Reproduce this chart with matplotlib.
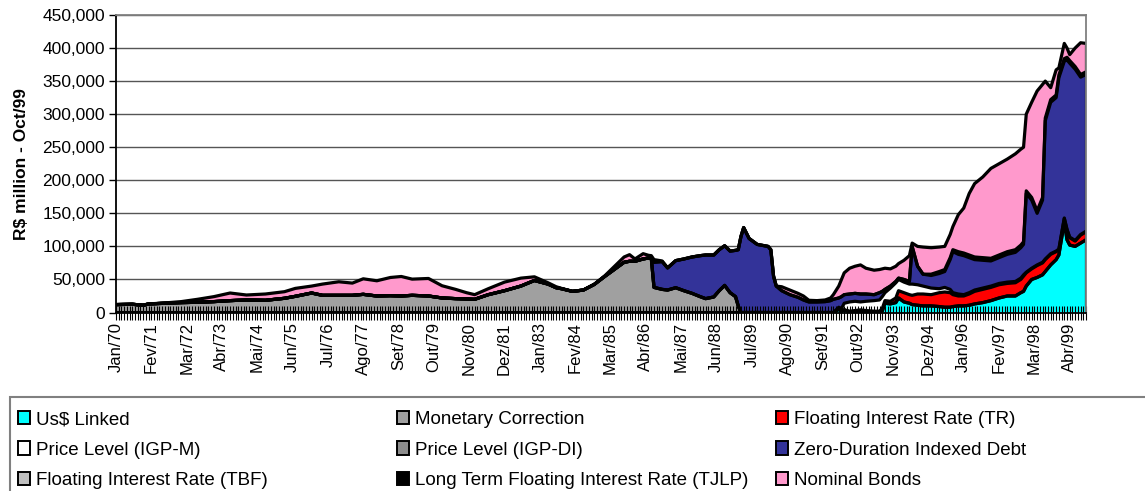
import numpy as np
import matplotlib.pyplot as plt
from matplotlib.patches import Patch, Rectangle
from matplotlib.ticker import FuncFormatter

plt.rcParams['font.family'] = ['Liberation Sans', 'DejaVu Sans']

# month index (0 = Jan/70), values in R$ thousand million
months = [0, 6, 10, 12, 18, 24, 30, 36, 42, 48,
          55, 62, 66, 72, 76, 82, 87, 91, 96, 101,
          105, 109, 115, 120, 125, 129, 132, 137, 143, 149,
          154, 159, 162, 164, 168, 172, 176, 180, 184, 187,
          189, 191, 194, 196, 197,
          198, 201, 203, 206, 209, 212, 215, 217, 220, 222,
          224, 226, 228, 229, 230, 231, 233, 236, 240, 241, 242, 243,
          245, 248, 251, 253, 255, 258, 261, 263, 264,
          266, 267, 268, 270, 272, 274, 276, 279, 281, 282,
          283, 285, 287, 288, 290, 292, 293, 295, 297,
          300, 303, 305, 307, 308, 310, 312, 314, 316, 319,
          322, 325, 328, 331, 333, 334, 335, 337, 339, 341,
          342, 344, 346, 347, 349, 350, 351, 353, 355, 357]

usd_linked = [0] * 45 + [0] * 22 + [0] * 9 + \
    [5, 2, 4, 1, 0.5, 0.5, 0.5, 0.5, 0.5, 2,
     14, 13, 15, 22, 16, 14, 12, 11, 10] + \
    [10, 9, 8, 8, 9, 10, 10, 11, 13, 15,
     18, 22, 25, 25, 30, 32, 40, 50, 53, 57,
     62, 72, 80, 87, 137, 110, 102, 100, 105, 110]

monetary = [12, 12.5, 11, 13, 14, 15, 15.5, 16.5, 18, 19,
            18.5, 21.5, 24.5, 29.5, 26, 26, 26, 27.5, 25, 25.5,
            25, 26, 25, 22, 21, 20.5, 20, 27, 33, 40,
            48.5, 43, 37.5, 36, 32, 34, 42.5, 55, 67, 76,
            77.5, 77.5, 81, 82.5, 82,
            38, 35, 34, 37.5, 33, 29, 24, 21, 23.5, 33,
            41, 30, 24, 10, 0, 0, 0, 0, 0, 0, 0, 0] + [0] * 58

tr_rate = [0] * 76 + \
    [0, 0, 0, 1, 2.5, 3.5, 2.5, 1.5, 1.5, 4,
     4, 4, 7, 11, 14, 13, 14, 17, 18] + \
    [17, 21, 23, 22, 18, 15, 15, 17, 19, 20,
     20, 20, 19, 20, 20, 23, 20, 16, 18, 18,
     18, 16, 12, 8, 5, 15, 11, 8, 12, 12]

igp_m = [0] * 76 + \
    [3, 4, 10, 14, 14, 12, 14, 16, 17, 18,
     12, 20, 23, 17, 16, 16, 17, 14, 12] + \
    [10, 6, 7, 5, 3, 3, 2, 2, 2, 2,
     2, 2, 2, 2, 2, 2, 1, 1, 1, 1,
     1, 1, 1, 1, 1, 1, 1, 1, 1, 1]

zero_duration = [0] * 45 + \
    [38, 42, 33.5, 41, 48, 55, 62, 66, 63.5, 62,
     60, 63, 70, 85, 115, 128.5, 112, 103, 100, 95, 55, 40] + \
    [33, 27, 23, 19, 16, 16, 16.5, 18, 20] + \
    [14, 18, 13, 12, 12, 12, 11, 9, 11, 8,
     5, 3, 2, 2, 4, 4, 57, 28, 18] + \
    [19, 23, 24, 45, 62, 60, 59, 53, 46, 42,
     38, 39, 42, 44, 46, 46, 119, 103, 78, 94,
     209, 229, 232, 259, 237, 256, 263, 259, 238, 237]

tjlp = [0] * 95 + \
    [2, 3, 3, 3, 3, 4, 4, 4, 4, 4,
     4, 4, 4, 4, 4, 4, 4, 4, 4, 4,
     4, 4, 4, 4, 4, 4, 4, 4, 4, 4]

nominal = [0, 0, 0, 0, 0.5, 1.5, 4.5, 7.5, 11.5, 7.5,
           9.5, 10, 12, 10.5, 17, 20.5, 18.5, 23.5, 23, 27.5,
           29.5, 24.5, 26.5, 18.5, 14, 9.5, 7, 9, 13, 12,
           5.5, 2, 1.5, 0.5, 0, 0, 0, 1, 5, 8,
           10, 3.5, 8, 4, 4,
           4, 1, 0, 0, 0, 0, 0, 0, 0, 0,
           0, 0, 0, 0, 0, 0, 0, 0, 0, 0, 0, 0,
           6, 7, 6, 6, 2.5, 2, 2.5, 4, 7,
           18, 26, 33, 39, 41, 44, 39, 37, 35, 34,
           32, 26, 23, 22, 29, 39, 5, 30, 41,
           40, 37, 35, 35, 35, 56, 68, 93, 111, 122,
           136, 138, 140, 145, 145, 143, 116, 144, 181, 171,
           56, 18, 38, 11, 23, 14, 9, 28, 48, 43]

tick_months = [0, 13, 26, 39, 52, 65, 78, 91, 104, 117, 130, 143, 156, 169,
               182, 195, 208, 221, 234, 247, 260, 273, 286, 299, 312, 325, 338, 351]
tick_labels = ['Jan/70', 'Fev/71', 'Mar/72', 'Abr/73', 'Mai/74', 'Jun/75', 'Jul/76',
               'Ago/77', 'Set/78', 'Out/79', 'Nov/80', 'Dez/81', 'Jan/83', 'Fev/84',
               'Mar/85', 'Abr/86', 'Mai/87', 'Jun/88', 'Jul/89', 'Ago/90', 'Set/91',
               'Out/92', 'Nov/93', 'Dez/94', 'Jan/96', 'Fev/97', 'Mar/98', 'Abr/99']
last_month = 357

C_USD = '#00FFFF'
C_MON = '#A0A0A0'
C_TR = '#FF0000'
C_IGPM = '#FFFFFF'
C_IGPDI = '#8C8C8C'
C_ZERO = '#333399'
C_TBF = '#C0C0C0'
C_TJLP = '#000000'
C_NOM = '#FF99CC'

fig = plt.figure(figsize=(11.45, 4.91), dpi=100)
ax = fig.add_axes([0.1013, 0.3635, 0.8472, 0.606])

layers = [usd_linked, monetary, tr_rate, igp_m, zero_duration, tjlp, nominal]
ax.stackplot(months, *layers,
             colors=[C_USD, C_MON, C_TR, C_IGPM, C_ZERO, C_TJLP, C_NOM],
             linewidth=0, zorder=1)

# black outline along every series boundary, as Excel draws it
tops = np.cumsum(np.array(layers, dtype=float), axis=0)
for top in tops:
    ax.plot(months, top, color='black', linewidth=2.3, solid_joinstyle='round', zorder=2)
ax.plot([months[-1], months[-1]], [0, tops[-1][-1]], color='black', linewidth=2.3, zorder=2)

ax.set_xlim(0, last_month)
ax.set_ylim(0, 450)
ax.set_yticks(range(0, 451, 50))
ax.yaxis.set_major_formatter(FuncFormatter(lambda v, p: f'{v * 1000:,.0f}'))
for v in range(50, 451, 50):
    ax.axhline(v, color='#555555', linewidth=1, zorder=0)

ax.set_xticks(tick_months)
ax.set_xticklabels(tick_labels, rotation=90, fontsize=12)
ax.set_xticks(range(last_month + 1), minor=True)
ax.tick_params(axis='x', which='both', direction='inout', length=10, width=0.8, pad=2)
ax.tick_params(axis='y', direction='out', length=5, width=1, labelsize=12.5, pad=3)

ax.set_ylabel('R$ million - Oct/99', fontweight='bold', fontsize=12.5)
ax.yaxis.set_label_coords(-0.09, 0.5)

for s in ['top', 'right']:
    ax.spines[s].set_color('#808080')
    ax.spines[s].set_linewidth(1.3)
for s in ['left', 'bottom']:
    ax.spines[s].set_linewidth(1.3)

# legend: three fixed-width columns inside a gray frame cut by the figure edge
legend_cols = [
    [('Us$ Linked', C_USD), ('Price Level (IGP-M)', C_IGPM), ('Floating Interest Rate (TBF)', C_TBF)],
    [('Monetary Correction', C_MON), ('Price Level (IGP-DI)', C_IGPDI),
     ('Long Term Floating Interest Rate (TJLP)', C_TJLP)],
    [('Floating Interest Rate (TR)', C_TR), ('Zero-Duration Indexed Debt', C_ZERO),
     ('Nominal Bonds', C_NOM)],
]
col_x = [18, 397, 776]
W, H = 1145, 491
for x, col in zip(col_x, legend_cols):
    handles = [Patch(facecolor=c, edgecolor='black', linewidth=1.4) for _, c in col]
    labels = [name for name, _ in col]
    fig.legend(handles, labels, loc='upper left', bbox_to_anchor=(x / W, 1 - 411 / H),
               frameon=False, borderpad=0, borderaxespad=0, fontsize=13.5,
               handlelength=0.64, handleheight=0.7, handletextpad=0.3, labelspacing=0.71)

fig.add_artist(Rectangle((10 / W, -0.1), 1.2, 0.1 + 1 - 397 / H, transform=fig.transFigure,
                         fill=False, edgecolor='#808080', linewidth=1.5))

fig.savefig('out.png', dpi=100)
